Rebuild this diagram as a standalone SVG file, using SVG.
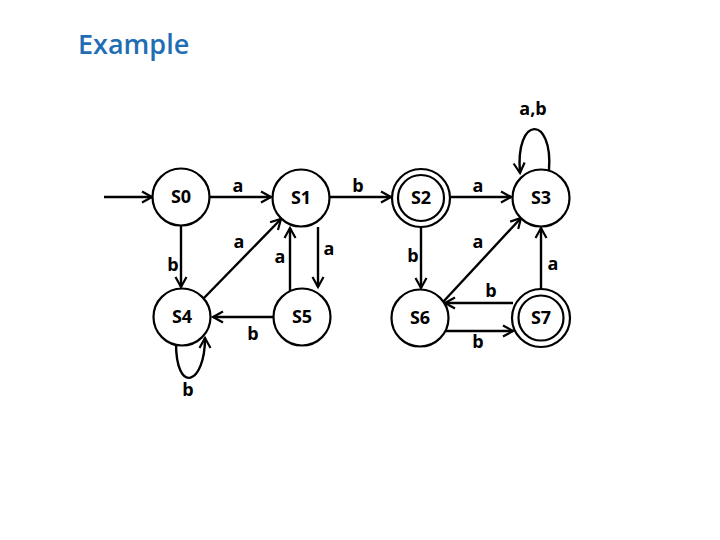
<svg xmlns="http://www.w3.org/2000/svg" width="720" height="540" viewBox="0 0 720 540">
<defs>
<marker id="arr" markerWidth="14" markerHeight="14" refX="11" refY="7" orient="auto" markerUnits="userSpaceOnUse">
<path d="M1,1.5 L11,7 L1,12.5" fill="none" stroke="#000" stroke-width="2.2"/>
</marker>
<style>
.st{fill:#fff;stroke:#000;stroke-width:2.2}
.nl{font-family:"Open Sans","Liberation Sans",sans-serif;font-weight:bold;font-size:18px;text-anchor:middle;fill:#000}
.el{font-family:"Open Sans","Liberation Sans",sans-serif;font-weight:bold;font-size:18px;text-anchor:middle;fill:#000}
.ed{fill:none;stroke:#000;stroke-width:2.4;marker-end:url(#arr)}
</style>
</defs>
<rect width="720" height="540" fill="#fff"/>
<text x="78" y="54" font-family="'Open Sans','Liberation Sans',sans-serif" font-weight="600" font-size="27" fill="#1F6EB5">Example</text>
<g id="connectors">
<path class="ed" d="M104,197 L152,197"/>
<path class="ed" d="M210,197 L271,197"/>
<path class="ed" d="M330,197 L391,197"/>
<path class="ed" d="M451,197 L511,197"/>
<path class="ed" d="M181,226 L181,287"/>
<path class="ed" d="M204,298 L281,219"/>
<path class="ed" d="M290,298 L290,228"/>
<path class="ed" d="M318,227 L318,287"/>
<path class="ed" d="M273,317 L213,317"/>
<path class="ed" d="M176,343 C176,395 205,385 205,338"/>
<path class="ed" d="M421,227 L421,288"/>
<path class="ed" d="M443,302 L521,218"/>
<path class="ed" d="M541,290 L541,228"/>
<path class="ed" d="M513,303 L445,303"/>
<path class="ed" d="M446,331 L513,331"/>
<path class="ed" d="M549,170 C553,115 515,115 520,173"/>
</g>
<g id="labels">
<text class="el" x="238" y="192">a</text>
<text class="el" x="358" y="192">b</text>
<text class="el" x="478" y="192">a</text>
<text class="el" x="173" y="271">b</text>
<text class="el" x="239" y="248">a</text>
<text class="el" x="280" y="263">a</text>
<text class="el" x="329" y="255">a</text>
<text class="el" x="253" y="340">b</text>
<text class="el" x="188" y="396">b</text>
<text class="el" x="413" y="262">b</text>
<text class="el" x="478" y="248">a</text>
<text class="el" x="553" y="270">a</text>
<text class="el" x="491" y="297">b</text>
<text class="el" x="478" y="348">b</text>
<text class="el" x="533" y="115">a,b</text>
</g>
<g id="S0"><circle class="st" cx="181" cy="197" r="28.5"/><text class="nl" x="181" y="203">S0</text></g>
<g id="S1"><circle class="st" cx="301" cy="198" r="28.5"/><text class="nl" x="301" y="204">S1</text></g>
<g id="S2"><circle class="st" cx="421" cy="198" r="29"/><circle class="st" cx="421" cy="198" r="23"/><text class="nl" x="421" y="204">S2</text></g>
<g id="S3"><circle class="st" cx="541" cy="198" r="28.5"/><text class="nl" x="541" y="204">S3</text></g>
<g id="S4"><circle class="st" cx="182" cy="317" r="28.5"/><text class="nl" x="182" y="323">S4</text></g>
<g id="S5"><circle class="st" cx="302" cy="317" r="28.5"/><text class="nl" x="302" y="323">S5</text></g>
<g id="S6"><circle class="st" cx="420" cy="318" r="28.5"/><text class="nl" x="420" y="324">S6</text></g>
<g id="S7"><circle class="st" cx="541" cy="318" r="29"/><circle class="st" cx="541" cy="318" r="22.5"/><text class="nl" x="541" y="324">S7</text></g>
</svg>
